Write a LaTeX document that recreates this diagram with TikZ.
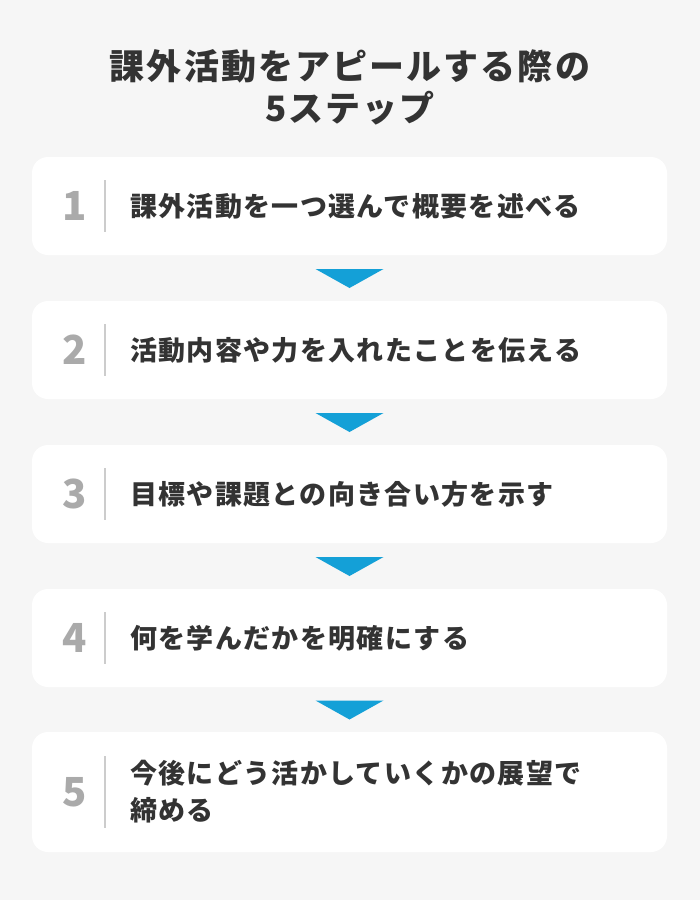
\documentclass[tikz,border=0pt]{standalone}
\usepackage{fontspec}
\usetikzlibrary{positioning,calc}
\newfontfamily\jptitle{Noto Sans CJK JP}[LetterSpace=6]
\newfontfamily\jptext{Noto Sans CJK JP}[LetterSpace=5]
\newfontfamily\numfont{Noto Sans CJK JP}
\definecolor{pagebg}{RGB}{246,246,246}
\definecolor{inkdark}{RGB}{51,51,51}
\definecolor{numgray}{RGB}{170,170,170}
\definecolor{rulegray}{RGB}{204,204,204}
\definecolor{arrowblue}{RGB}{20,160,215}
\begin{document}
\begin{tikzpicture}[x=1pt, y=-1pt,
    stepbox/.style = {shape=rectangle, fill=white, rounded corners=16pt,
      minimum width=635pt, inner sep=0pt},
    stepnum/.style = {text=numgray, font=\numfont\bfseries\fontsize{40}{40}\selectfont, inner sep=0pt},
    steptext/.style = {text=inkdark, align=left, anchor=west, inner sep=0pt,
      font=\jptext\bfseries\fontsize{27}{37}\selectfont},
    titletext/.style = {text=inkdark, align=center, inner sep=0pt,
      font=\jptitle\bfseries\fontsize{35}{42}\selectfont}]
  \fill[pagebg] (0,0) rectangle (700,900);
  \useasboundingbox (0,0) rectangle (700,900);
  \node[titletext] (title) at (350,87) {課外活動をアピールする際の\\5ステップ};
  % steps: centre / height / line length / number / text
  \foreach \y/\h/\l/\n/\t in {206/98/52/1/課外活動を一つ選んで概要を述べる,
      350/98/52/2/活動内容や力を入れたことを伝える,
      494/98/52/3/目標や課題との向き合い方を示す,
      638/98/52/4/何を学んだかを明確にする,
      792/120/72/5/{今後にどう活かしていくかの展望で\\締める}} {
    \node[stepbox, minimum height=\h pt] (s\n) at (349.5,\y) {};
    \node[stepnum] (n\n) at ([xshift=43pt]s\n.west) {\n};
    \draw[rulegray, line width=2pt] ([xshift=73pt, yshift=\l/2]s\n.west) coordinate (a\n)
      -- ([xshift=73pt, yshift=-\l/2]s\n.west) coordinate (b\n);
    \node[steptext] (t\n) at ([xshift=98pt]s\n.west) {\t};
  }
  % arrows between steps
  \foreach \a/\b in {1/2,2/3,3/4,4/5} {
    \coordinate (m\a) at ($(s\a.south)!0.5!(s\b.north)$);
    \fill[arrowblue] ([xshift=-34pt, yshift=9pt]m\a) -- ([xshift=34pt, yshift=9pt]m\a)
      -- ([yshift=-10pt]m\a) -- cycle;
  }
\end{tikzpicture}
\end{document}
